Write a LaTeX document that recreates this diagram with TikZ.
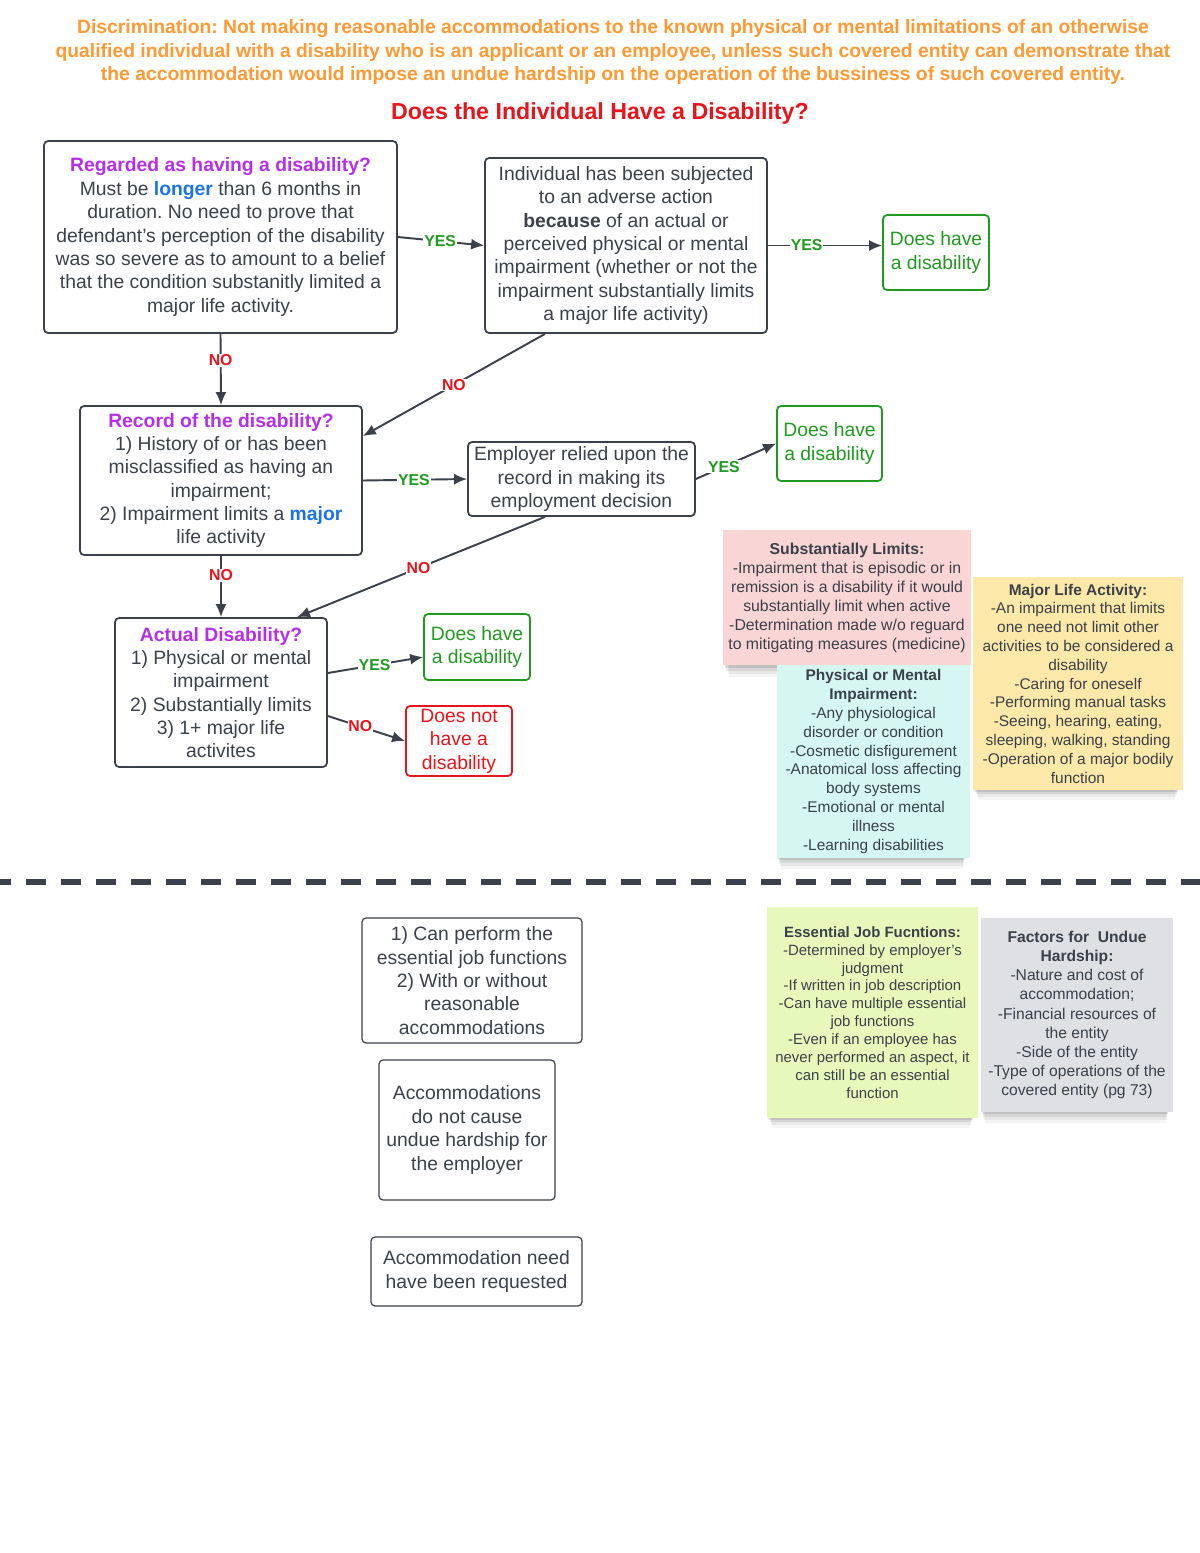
\documentclass[tikz,border=0pt]{standalone}
\usepackage{fontspec}
\setmainfont{Liberation Sans}
\usetikzlibrary{arrows.meta,shadows}
\definecolor{ink}{HTML}{3A414A}
\definecolor{orng}{HTML}{FF9933}
\definecolor{rd}{HTML}{E8141B}
\definecolor{grn}{HTML}{1F9A1F}
\definecolor{prpl}{HTML}{B52EEB}
\definecolor{blu}{HTML}{1A73E8}
\definecolor{pinknote}{HTML}{F9D5D5}
\definecolor{cyannote}{HTML}{D5F6F1}
\definecolor{yellnote}{HTML}{FCE8A8}
\definecolor{limenote}{HTML}{E6F9BA}
\definecolor{graynote}{HTML}{DEE0E4}
\frenchspacing
\begin{document}
\begin{tikzpicture}[x=0.02cm, y=-0.02cm, >={Latex[length=2.6mm,width=2.2mm]},
	box/.style={draw=ink, line width=1pt, rounded corners=2.3pt, align=center, text=ink, inner sep=1pt, font=\fontsize{11}{13.3}\selectfont},
	plainbox/.style={box, line width=0.7pt},
	havebox/.style={box, draw=grn, text=grn},
	notbox/.style={box, draw=rd, text=rd},
	flow/.style={->, draw=ink, line width=1.1pt},
	yes/.style={fill=white, inner sep=0.5pt, text=grn, font=\bfseries\fontsize{9}{9}\selectfont},
	no/.style={yes, text=rd},
	soft/.style={general shadow={fill=black, opacity=0.04, shadow xshift=-1pt, shadow yshift=-10pt, shadow scale=0.94},
		general shadow={fill=black, opacity=0.06, shadow xshift=-1pt, shadow yshift=-7.5pt, shadow scale=0.95},
		general shadow={fill=black, opacity=0.08, shadow xshift=-1pt, shadow yshift=-5pt, shadow scale=0.96},
		general shadow={fill=black, opacity=0.1, shadow xshift=-1pt, shadow yshift=-3pt, shadow scale=0.97}},
	note/.style={soft, align=center, text=ink, inner sep=1pt, font=\fontsize{8.8}{10.7}\selectfont}]
	\useasboundingbox (0,0) rectangle (1200,1553);
	\node[text=orng, align=center, font=\bfseries\fontsize{11}{13.3}\selectfont] (intro) at (613,52) {Discrimination: Not making reasonable accommodations to the known physical or mental limitations of an otherwise\\qualified individual with a disability who is an applicant or an employee, unless such covered entity can demonstrate that\\the accommodation would impose an undue hardship on the operation of the bussiness of such covered entity.};
	\node[text=rd, font=\bfseries\fontsize{13.2}{15}\selectfont] (question) at (600,113) {Does the Individual Have a Disability?};
	\node[box, minimum width=7.06cm, minimum height=3.84cm] (regarded) at (220.5,237) {\textcolor{prpl}{\textbf{Regarded as having a disability?}}\\Must be \textcolor{blu}{\textbf{longer}} than 6 months in\\duration. No need to prove that\\defendant's perception of the disability\\was so severe as to amount to a belief\\that the condition substanitly limited a\\major life activity.};
	\node[box, minimum width=5.64cm, minimum height=3.5cm] (adverse) at (626,245.5) {Individual has been subjected\\to an adverse action\\\textbf{because} of an actual or\\perceived physical or mental\\impairment (whether or not the\\impairment substantially limits\\a major life activity)};
	\node[havebox, minimum width=2.12cm, minimum height=1.5cm] (have1) at (936,252.5) {Does have\\a disability};
	\node[box, minimum width=5.64cm, minimum height=2.98cm] (record) at (221,480.5) {\textcolor{prpl}{\textbf{Record of the disability?}}\\1) History of or has been\\misclassified as having an\\impairment;\\2) Impairment limits a \textcolor{blu}{\textbf{major}}\\life activity};
	\node[box, minimum width=4.54cm, minimum height=1.48cm] (relied) at (581.5,479) {Employer relied upon the\\record in making its\\employment decision};
	\node[havebox, minimum width=2.1cm, minimum height=1.5cm] (have2) at (829.5,443.5) {Does have\\a disability};
	\node[box, minimum width=4.24cm, minimum height=2.98cm] (actual) at (221,692.5) {\textcolor{prpl}{\textbf{Actual Disability?}}\\1) Physical or mental\\impairment\\2) Substantially limits\\3) 1+ major life\\activites};
	\node[havebox, minimum width=2.12cm, minimum height=1.32cm] (have3) at (477,647) {Does have\\a disability};
	\node[notbox, minimum width=2.12cm, minimum height=1.4cm] (hasnot) at (459,741) {Does not\\have a\\disability};
	\draw[flow] (regarded.east) -- node[yes, pos=0.49] {YES} (adverse.west);
	\draw[flow] (adverse.east) -- node[yes, pos=0.34] {YES} (adverse.east -| have1.west);
	\draw[flow] (regarded.south) -- node[no, pos=0.37] {NO} (record.north);
	\draw[flow] ([xshift=-1.62cm]adverse.south) -- node[no, pos=0.5] {NO} ([yshift=-0.62cm]record.north east);
	\draw[flow] (record.east) -- node[yes, pos=0.49] {YES} (relied.west);
	\draw[flow] (relied.east) -- node[yes, pos=0.35] {YES} (have2.west);
	\draw[flow] (record.south) -- node[no, pos=0.32] {NO} (actual.north);
	\draw[flow] ([xshift=-0.73cm]relied.south) -- node[no, pos=0.51] {NO} ([xshift=1.52cm]actual.north);
	\draw[flow] ([yshift=0.39cm]actual.east) -- node[yes, pos=0.49] {YES} ([yshift=-0.2cm]have3.west);
	\draw[flow] ([yshift=-0.47cm]actual.east) -- node[no, pos=0.42] {NO} (hasnot.west);
	\node[note, fill=pinknote, minimum width=4.96cm, minimum height=2.7cm, font=\fontsize{9}{10.8}\selectfont] (limits) at (847,597.5) {\textbf{Substantially Limits:}\\-Impairment that is episodic or in\\remission is a disability if it would\\substantially limit when active\\-Determination made w/o reguard\\to mitigating measures (medicine)};
	\node[note, fill=cyannote, minimum width=3.86cm, minimum height=3.86cm] (impair) at (873.5,761.5) {\textbf{Physical or Mental}\\\textbf{Impairment:}\\-Any physiological\\disorder or condition\\-Cosmetic disfigurement\\-Anatomical loss affecting\\body systems\\-Emotional or mental\\illness\\-Learning disabilities};
	\node[note, fill=yellnote, minimum width=4.2cm, minimum height=4.26cm] (activity) at (1078,683.5) {\textbf{Major Life Activity:}\\-An impairment that limits\\one need not limit other\\activities to be considered a\\disability\\-Caring for oneself\\-Performing manual tasks\\-Seeing, hearing, eating,\\sleeping, walking, standing\\-Operation of a major bodily\\function};
	\draw[ink, line width=3pt, dash pattern=on 0.4cm off 0.3cm, dash phase=0.18cm] (0,882) -- (1200,882);
	\node[plainbox, minimum width=4.4cm, minimum height=2.5cm] (perform) at (472,980.5) {1) Can perform the\\essential job functions\\2) With or without\\reasonable\\accommodations};
	\node[plainbox, minimum width=3.52cm, minimum height=2.8cm] (hardship) at (467,1130) {Accommodations\\do not cause\\undue hardship for\\the employer};
	\node[plainbox, minimum width=4.22cm, minimum height=1.38cm] (requested) at (476.5,1271.5) {Accommodation need\\have been requested};
	\node[note, fill=limenote, minimum width=4.22cm, minimum height=4.22cm, font=\fontsize{8.5}{10.2}\selectfont] (functions) at (872.5,1012.5) {\textbf{Essential Job Fucntions:}\\-Determined by employer's\\judgment\\-If written in job description\\-Can have multiple essential\\job functions\\-Even if an employee has\\never performed an aspect, it\\can still be an essential\\function};
	\node[note, fill=graynote, minimum width=3.84cm, minimum height=3.88cm, font=\fontsize{8.9}{10.9}\selectfont] (factors) at (1077,1015) {\textbf{Factors for\ \ Undue}\\\textbf{Hardship:}\\-Nature and cost of\\accommodation;\\-Financial resources of\\the entity\\-Side of the entity\\-Type of operations of the\\covered entity (pg 73)};
\end{tikzpicture}
\end{document}
